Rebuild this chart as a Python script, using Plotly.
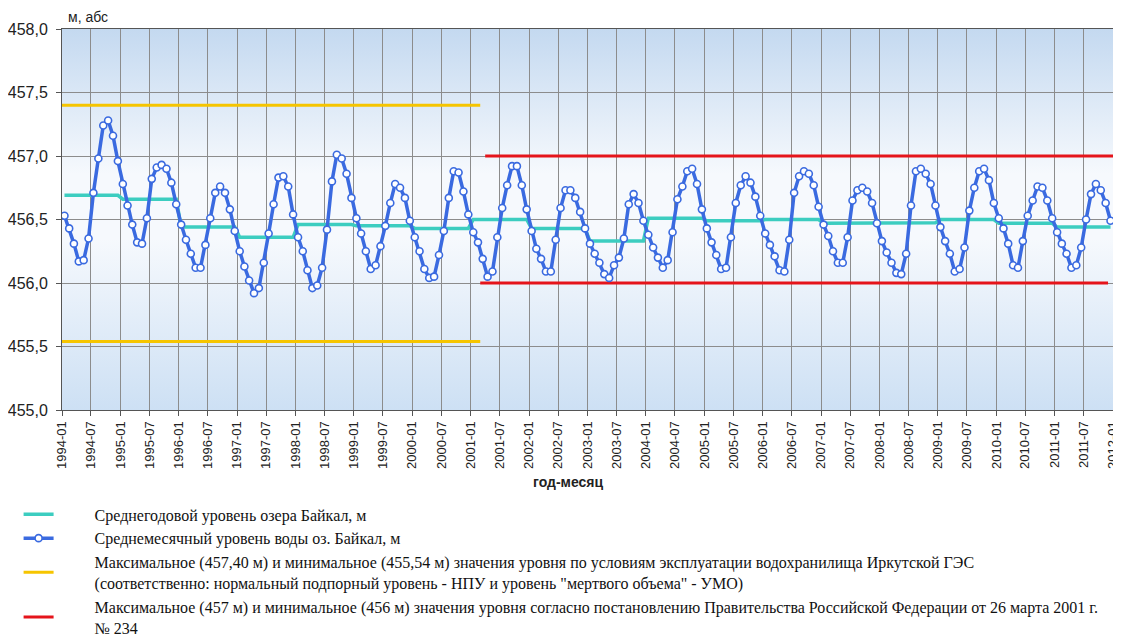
import base64
import pandas as pd
import plotly.graph_objects as go

# ---- data ----
years = list(range(1994, 2012))
monthly_1994 = [456.53, 456.43, 456.31, 456.17, 456.18, 456.35, 456.71, 456.98, 457.24, 457.28, 457.16, 456.96]
monthly_1995 = [456.78, 456.61, 456.46, 456.32, 456.31, 456.51, 456.82, 456.91, 456.93, 456.90, 456.79, 456.62]
monthly_1996 = [456.46, 456.34, 456.23, 456.12, 456.12, 456.30, 456.51, 456.71, 456.76, 456.71, 456.58, 456.41]
monthly_1997 = [456.25, 456.13, 456.02, 455.92, 455.96, 456.16, 456.39, 456.62, 456.83, 456.84, 456.76, 456.54]
monthly_1998 = [456.36, 456.25, 456.10, 455.96, 455.98, 456.12, 456.42, 456.80, 457.01, 456.98, 456.86, 456.67]
monthly_1999 = [456.51, 456.39, 456.25, 456.11, 456.14, 456.29, 456.45, 456.63, 456.78, 456.75, 456.67, 456.49]
monthly_2000 = [456.36, 456.25, 456.11, 456.04, 456.05, 456.22, 456.41, 456.67, 456.88, 456.87, 456.72, 456.54]
monthly_2001 = [456.40, 456.32, 456.19, 456.05, 456.09, 456.36, 456.59, 456.77, 456.92, 456.92, 456.77, 456.58]
monthly_2002 = [456.41, 456.27, 456.19, 456.09, 456.09, 456.34, 456.59, 456.73, 456.73, 456.67, 456.56, 456.43]
monthly_2003 = [456.31, 456.23, 456.16, 456.07, 456.04, 456.14, 456.20, 456.35, 456.62, 456.70, 456.63, 456.49]
monthly_2004 = [456.38, 456.28, 456.20, 456.12, 456.18, 456.40, 456.66, 456.76, 456.88, 456.90, 456.78, 456.58]
monthly_2005 = [456.43, 456.32, 456.22, 456.11, 456.12, 456.36, 456.63, 456.77, 456.84, 456.79, 456.68, 456.53]
monthly_2006 = [456.39, 456.30, 456.21, 456.10, 456.09, 456.34, 456.71, 456.84, 456.88, 456.86, 456.77, 456.60]
monthly_2007 = [456.46, 456.37, 456.25, 456.16, 456.16, 456.36, 456.65, 456.73, 456.75, 456.72, 456.63, 456.47]
monthly_2008 = [456.33, 456.24, 456.16, 456.08, 456.07, 456.23, 456.61, 456.88, 456.90, 456.86, 456.78, 456.61]
monthly_2009 = [456.44, 456.33, 456.23, 456.09, 456.11, 456.28, 456.57, 456.75, 456.88, 456.90, 456.81, 456.63]
monthly_2010 = [456.51, 456.43, 456.31, 456.14, 456.12, 456.33, 456.53, 456.65, 456.76, 456.75, 456.65, 456.51]
monthly_2011 = [456.40, 456.31, 456.23, 456.12, 456.14, 456.28, 456.50, 456.70, 456.78, 456.73, 456.63, 456.49]

annual_mean = [456.69, 456.66, 456.44, 456.36, 456.46, 456.45, 456.43, 456.50, 456.43,
               456.33, 456.51, 456.49, 456.50, 456.47, 456.475, 456.50, 456.47, 456.44]

npu_umo_levels = [457.40, 455.54]
npu_umo_period = ["1994-01-01", "2001-03-01"]
gov_levels = [457.0, 456.0]
gov_max_period = ["2001-04-01", "2012-01-01"]
gov_min_period = ["2001-03-01", "2011-12-01"]

PAD = "\u00a0" * 9
name_annual = PAD + "Среднегодовой уровень озера Байкал, м"
name_monthly = PAD + "Среднемесячный уровень воды оз. Байкал, м"
name_npu = (PAD + "Максимальное (457,40 м) и минимальное (455,54 м) значения уровня по условиям эксплуатации "
            "водохранилища Иркутской ГЭС<br>" + PAD + "(соответственно: нормальный подпорный уровень - НПУ и уровень "
            "\"мертвого объема\" - УМО)")
name_gov = (PAD + "Максимальное (457 м) и минимальное (456 м) значения уровня согласно постановлению "
            "Правительства Российской Федерации от 26 марта 2001 г.<br>" + PAD + "№ 234")

# ---- assemble ----
monthly_by_year = [monthly_1994, monthly_1995, monthly_1996, monthly_1997, monthly_1998, monthly_1999,
                   monthly_2000, monthly_2001, monthly_2002, monthly_2003, monthly_2004, monthly_2005,
                   monthly_2006, monthly_2007, monthly_2008, monthly_2009, monthly_2010, monthly_2011]
months = pd.date_range("1994-01-01", periods=12 * len(years), freq="MS")
monthly = [v for yr in monthly_by_year for v in yr]
annual_series = [a for a in annual_mean for _ in range(12)]

BLUE = "#3a6ae0"
TEAL = "#3ccdc0"
YELLOW = "#f6c500"
RED = "#e5141b"

fig = go.Figure()
for i, lev in enumerate(npu_umo_levels):
    fig.add_trace(go.Scatter(x=npu_umo_period, y=[lev, lev], mode="lines",
                             line=dict(color=YELLOW, width=3), name=name_npu,
                             legendgroup="npu", showlegend=(i == 0), legendrank=3))
fig.add_trace(go.Scatter(x=gov_max_period, y=[gov_levels[0]] * 2, mode="lines",
                         line=dict(color=RED, width=3), name=name_gov,
                         legendgroup="gov", showlegend=True, legendrank=4))
fig.add_trace(go.Scatter(x=gov_min_period, y=[gov_levels[1]] * 2, mode="lines",
                         line=dict(color=RED, width=3), name=name_gov,
                         legendgroup="gov", showlegend=False, legendrank=4))
fig.add_trace(go.Scatter(x=months, y=annual_series, mode="lines", xperiod="M1",
                         xperiodalignment="middle", line=dict(color=TEAL, width=3.5),
                         name=name_annual, legendgroup="annual", legendrank=1))
fig.add_trace(go.Scatter(x=months, y=monthly, mode="lines+markers", xperiod="M1",
                         xperiodalignment="middle", line=dict(color=BLUE, width=3.5),
                         marker=dict(symbol="circle", size=7, color="white",
                                     line=dict(color=BLUE, width=1.6)),
                         name=name_monthly, legendgroup="monthly", legendrank=2))

# gradient background of the plot area
svg = ('<svg xmlns="http://www.w3.org/2000/svg" width="100" height="100" preserveAspectRatio="none">'
       '<defs><linearGradient id="g" x1="0" y1="0" x2="0" y2="1">'
       '<stop offset="0" stop-color="#c4d9f0"/><stop offset="0.38" stop-color="#f6f9fd"/>'
       '<stop offset="0.55" stop-color="#f6f9fd"/><stop offset="1" stop-color="#cde0f4"/>'
       '</linearGradient></defs><rect width="100" height="100" fill="url(#g)"/></svg>')
src = "data:image/svg+xml;base64," + base64.b64encode(svg.encode()).decode()

# the page body has an 8px margin, so the figure is 8px smaller than the window
fig.update_layout(
    width=1113, height=630,
    margin=dict(l=54, r=8, t=21, b=228, autoexpand=False),
    paper_bgcolor="white", plot_bgcolor="rgba(0,0,0,0)",
    separators=", ",
    font=dict(family="Liberation Sans, Arial, sans-serif", color="#222"),
    images=[dict(source=src, xref="paper", yref="paper", x=0, y=1, sizex=1, sizey=1,
                 xanchor="left", yanchor="top", sizing="stretch", layer="below")],
    showlegend=True,
    legend=dict(x=-0.0413, xanchor="left", y=-0.2295, yanchor="top", orientation="v",
                font=dict(family="Liberation Serif, Times New Roman, serif", size=16, color="#111"),
                tracegroupgap=0, bgcolor="rgba(0,0,0,0)"),
    annotations=[
        dict(text="м, абс", xref="paper", yref="paper", x=0.004, y=1.031, xanchor="left",
             yanchor="middle", showarrow=False, font=dict(size=14, color="#222")),
        dict(text="<b>год-месяц</b>", xref="paper", yref="paper", x=0.481, y=-0.19,
             xanchor="center", yanchor="middle", showarrow=False, font=dict(size=14, color="#222")),
    ],
)
fig.update_xaxes(type="date", range=["1994-01-01", "2012-01-01"], dtick="M6", tick0="1994-01-01",
                 tickformat="%Y-%m", tickangle=-90, tickfont=dict(size=13),
                 showgrid=True, gridcolor="#8c8c8c", gridwidth=1,
                 showline=True, linecolor="#555", linewidth=1, mirror=True,
                 ticks="outside", ticklen=5, tickcolor="#555", zeroline=False)
fig.update_yaxes(range=[455, 458], dtick=0.5, tickformat=".1f", tickfont=dict(size=16),
                 ticklabelstandoff=5,
                 showgrid=True, gridcolor="#8c8c8c", gridwidth=1,
                 showline=True, linecolor="#555", linewidth=1, mirror=True,
                 ticks="outside", ticklen=5, tickcolor="#555", zeroline=False)

fig.write_html("out.html")
